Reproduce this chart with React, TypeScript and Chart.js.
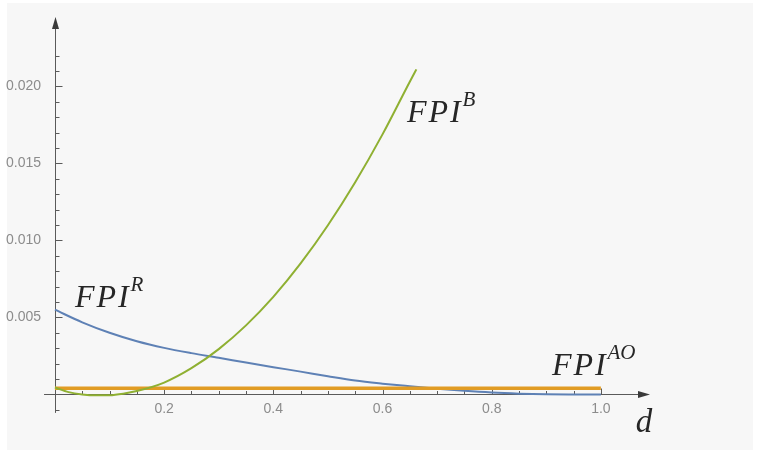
import React, { useEffect, useRef } from 'react';
import { Chart, registerables } from 'chart.js';

Chart.register(...registerables);

// ---- data ----
const dR = [0, 0.05, 0.1, 0.15, 0.2, 0.25, 0.3, 0.35, 0.4, 0.45, 0.5, 0.55, 0.6, 0.65, 0.7, 0.75, 0.8, 0.85, 0.9, 0.95, 1.0];
const fpiR = [0.0055, 0.00468, 0.004, 0.00345, 0.00302, 0.00268, 0.00238, 0.00207, 0.00177, 0.00148, 0.00118, 0.0009, 0.0007, 0.00053, 0.00037, 0.00023, 0.00012, 0.00005, 0.00001, 0.0, 0.0];

const dB = [0, 0.025, 0.05, 0.075, 0.1, 0.125, 0.15, 0.2, 0.25, 0.3, 0.35, 0.4, 0.45, 0.5, 0.55, 0.6, 0.65, 0.662];
const fpiB = [0.00045, 0.00015, 0.0, -0.00006, -0.00005, 0.00005, 0.00022, 0.00077, 0.0017, 0.00294, 0.00448, 0.00633, 0.0085, 0.01098, 0.01377, 0.01688, 0.0203, 0.0211];

const dAO = [0, 1.0];
const fpiAO = [0.0004, 0.0004];

const xMajorTicks = [0.2, 0.4, 0.6, 0.8, 1.0];
const yMajorTicks = [0.005, 0.01, 0.015, 0.02];
const xMinorTicks = [0.05, 0.1, 0.15, 0.25, 0.3, 0.35, 0.45, 0.5, 0.55, 0.65, 0.7, 0.75, 0.85, 0.9, 0.95];
const yMinorTicks = [-0.001, 0.001, 0.002, 0.003, 0.004, 0.006, 0.007, 0.008, 0.009, 0.011, 0.012, 0.013, 0.014, 0.016, 0.017, 0.018, 0.019, 0.021, 0.022];

const curveSups = ['R', 'B', 'AO'];
const curveLabelX = [0.0366, 0.6447, 0.9103];
const curveLabelY = [0.00565, 0.01766, 0.00123];
const axisLabel = 'd';
const axisLabelX = 1.0641;
const axisLabelY = -0.00247;

const BLUE = '#5E81B5';
const ORANGE = '#E19C24';
const GREEN = '#8FB032';

const toPts = (xs: number[], ys: number[]) => xs.map((x, i) => ({ x, y: ys[i] }));

const decor = {
  id: 'decor',
  beforeDraw(chart: any) {
    const ctx = chart.ctx;
    ctx.save();
    ctx.fillStyle = '#ffffff';
    ctx.fillRect(0, 0, chart.width, chart.height);
    ctx.fillStyle = '#f7f7f7';
    ctx.fillRect(7, 3, 746, 447);
    ctx.restore();
  },
  beforeDatasetsDraw(chart: any) {
    const { ctx, chartArea } = chart;
    const xs = chart.scales.x;
    const ys = chart.scales.y;
    const x0 = Math.round(xs.getPixelForValue(0)) + 0.5;
    const y0 = Math.round(ys.getPixelForValue(0)) + 0.5;
    ctx.save();
    ctx.strokeStyle = '#5a5a5a';
    ctx.lineWidth = 1;
    ctx.beginPath();
    ctx.moveTo(chartArea.left, y0);
    ctx.lineTo(chartArea.right - 6, y0);
    ctx.moveTo(x0, chartArea.bottom);
    ctx.lineTo(x0, chartArea.top + 6);
    xMajorTicks.forEach((v) => {
      const p = Math.round(xs.getPixelForValue(v)) + 0.5;
      ctx.moveTo(p, y0);
      ctx.lineTo(p, y0 - 6);
    });
    xMinorTicks.forEach((v) => {
      const p = Math.round(xs.getPixelForValue(v)) + 0.5;
      ctx.moveTo(p, y0);
      ctx.lineTo(p, y0 - 3.5);
    });
    yMajorTicks.forEach((v) => {
      const p = Math.round(ys.getPixelForValue(v)) + 0.5;
      ctx.moveTo(x0, p);
      ctx.lineTo(x0 + 7, p);
    });
    yMinorTicks.forEach((v) => {
      const p = Math.round(ys.getPixelForValue(v)) + 0.5;
      ctx.moveTo(x0, p);
      ctx.lineTo(x0 + 4, p);
    });
    ctx.stroke();
    ctx.fillStyle = '#3a3a3a';
    ctx.beginPath();
    ctx.moveTo(chartArea.right, y0);
    ctx.lineTo(chartArea.right - 12, y0 - 3.5);
    ctx.lineTo(chartArea.right - 12, y0 + 3.5);
    ctx.closePath();
    ctx.fill();
    ctx.beginPath();
    ctx.moveTo(x0, chartArea.top);
    ctx.lineTo(x0 - 3.5, chartArea.top + 12);
    ctx.lineTo(x0 + 3.5, chartArea.top + 12);
    ctx.closePath();
    ctx.fill();
    ctx.restore();
  },
  afterDraw(chart: any) {
    const ctx = chart.ctx;
    const xs = chart.scales.x;
    const ys = chart.scales.y;
    ctx.save();
    ctx.fillStyle = '#262626';
    ctx.textBaseline = 'alphabetic';
    ctx.textAlign = 'left';
    curveSups.forEach((sup, i) => {
      const px = xs.getPixelForValue(curveLabelX[i]);
      const py = ys.getPixelForValue(curveLabelY[i]);
      ctx.font = 'italic 32px "Liberation Serif", "DejaVu Serif", serif';
      (ctx as any).letterSpacing = '2px';
      ctx.fillText('FPI', px, py);
      (ctx as any).letterSpacing = '0px';
      ctx.font = 'italic 21px "Liberation Serif", "DejaVu Serif", serif';
      ctx.fillText(sup, px + 55.5, py - 16);
    });
    ctx.font = 'italic 33px "Liberation Serif", "DejaVu Serif", serif';
    ctx.fillText(axisLabel, xs.getPixelForValue(axisLabelX), ys.getPixelForValue(axisLabelY));
    ctx.restore();
  },
};

export default function App() {
  const ref = useRef<HTMLCanvasElement>(null);
  useEffect(() => {
    const tickFont = { family: '"Liberation Sans", Arial, sans-serif', size: 14 };
    const chart = new Chart(ref.current as HTMLCanvasElement, {
      type: 'line',
      data: {
        datasets: [
          {
            label: 'FPI^B',
            data: toPts(dB, fpiB),
            borderColor: GREEN,
            borderWidth: 2,
            pointRadius: 0,
            cubicInterpolationMode: 'monotone',
            fill: false,
            order: 1,
          },
          {
            label: 'FPI^AO',
            data: toPts(dAO, fpiAO),
            borderColor: ORANGE,
            borderWidth: 3.5,
            pointRadius: 0,
            fill: false,
            order: 2,
          },
          {
            label: 'FPI^R',
            data: toPts(dR, fpiR),
            borderColor: BLUE,
            borderWidth: 2,
            pointRadius: 0,
            cubicInterpolationMode: 'monotone',
            fill: false,
            order: 3,
          },
        ],
      },
      options: {
        animation: false,
        responsive: false,
        devicePixelRatio: 1,
        layout: { padding: { left: 3, right: 112, top: 17, bottom: 37.1 } },
        plugins: { legend: { display: false }, tooltip: { enabled: false } },
        scales: {
          x: {
            type: 'linear',
            min: -0.02,
            max: 1.09,
            position: { y: 0 } as any,
            grid: { display: false, drawTicks: false },
            border: { display: false },
            ticks: {
              padding: 6.5,
              color: '#8c8c8c',
              font: tickFont,
              maxRotation: 0,
              autoSkip: false,
              callback: (v: any) => Number(v).toFixed(1),
            },
            afterBuildTicks: (s: any) => {
              s.ticks = xMajorTicks.map((value) => ({ value }));
            },
          },
          y: {
            type: 'linear',
            min: -0.0012,
            max: 0.0245,
            position: 'left',
            grid: { display: false, drawTicks: false },
            border: { display: false },
            ticks: {
              padding: 3,
              color: '#8c8c8c',
              font: tickFont,
              autoSkip: false,
              callback: (v: any) => Number(v).toFixed(3),
            },
            afterBuildTicks: (s: any) => {
              s.ticks = yMajorTicks.map((value) => ({ value }));
            },
          },
        },
      } as any,
      plugins: [decor],
    });
    return () => chart.destroy();
  }, []);
  return (
    <div style={{ position: 'fixed', left: 0, top: 0, width: 762, height: 450, background: '#fff' }}>
      <canvas ref={ref} width={762} height={450} style={{ display: 'block', width: 762, height: 450 }} />
    </div>
  );
}
